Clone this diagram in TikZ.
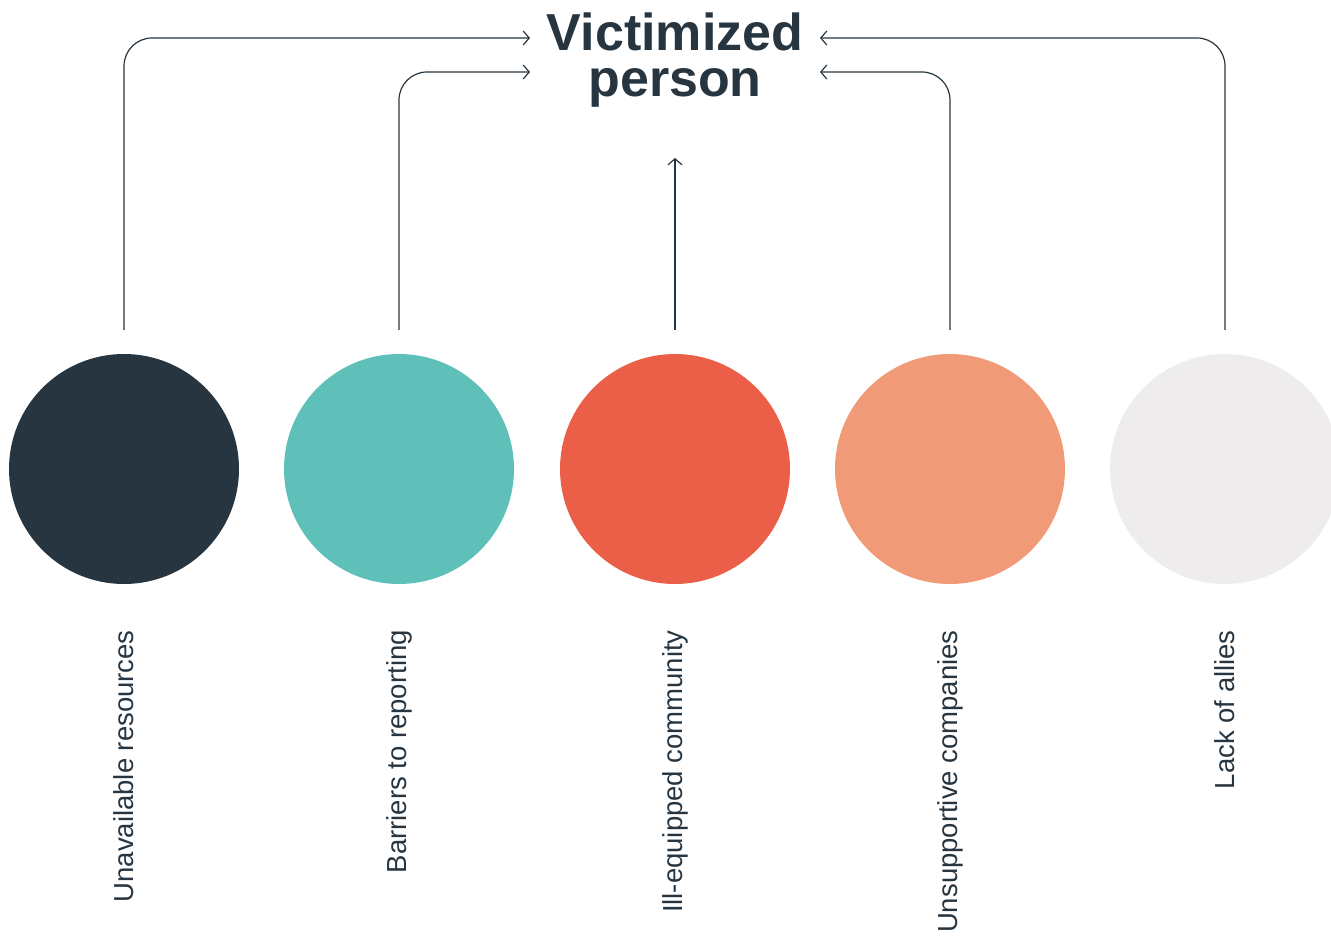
\documentclass[tikz,border=0pt]{standalone}
\usepackage{fontspec}
\setmainfont{Liberation Sans}
\usetikzlibrary{arrows.meta}

\definecolor{ink}{HTML}{263540}
\definecolor{teal}{HTML}{5FC0BA}
\definecolor{coral}{HTML}{EB5F48}
\definecolor{salmon}{HTML}{F19A77}
\definecolor{mist}{HTML}{EEECED}

\tikzset{
  dot/.style={circle, fill=#1, minimum size=230pt, inner sep=0},
  factor/.style={rotate=90, anchor=east, inner sep=0, text=ink,
    font=\fontsize{27.5}{32}\selectfont},
  link/.style={ink, line width=1.2pt, rounded corners=28pt, shorten <=24pt,
    -{Straight Barb[length=6pt, width=14pt]}},
}

\begin{document}
\begin{tikzpicture}[x=1pt, y=-1pt]
\useasboundingbox (0,0) rectangle (1331,936);
\clip (0,0) rectangle (1331,936);

% the five factors
\foreach \x/\col/\name/\txt in {124/ink/res/Unavailable resources,
    399/teal/bar/Barriers to reporting,
    675/coral/com/Ill-equipped community,
    950/salmon/cmp/Unsupportive companies,
    1225/mist/ally/Lack of allies} {
  \node[dot=\col] (\name) at (\x,469) {};
  \node[factor] (\name-txt) at (\x,630) {\txt};
}

% centre
\node[text=ink, align=center, inner sep=0,
  font=\fontsize{52}{46}\selectfont\bfseries] (victim) at (675,60) {Victimized\\person};

\coordinate (inL1) at (530,38);
\coordinate (inL2) at (530,72);
\coordinate (inR1) at (820,38);
\coordinate (inR2) at (820,72);
\coordinate (inC) at (675,158);

\draw[link] (res.north) |- (inL1);
\draw[link] (bar.north) |- (inL2);
\draw[link] (com.north) -- (inC);
\draw[link] (cmp.north) |- (inR2);
\draw[link] (ally.north) |- (inR1);
\end{tikzpicture}
\end{document}
